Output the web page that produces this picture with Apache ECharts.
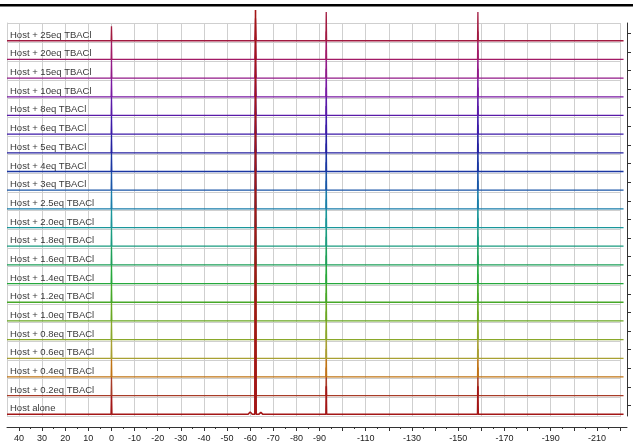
<!DOCTYPE html>
<html><head><meta charset="utf-8">
<script src="https://cdn.jsdelivr.net/npm/echarts@6/dist/echarts.min.js"></script>
<style>html,body{margin:0;padding:0;background:#fff}#c{width:633px;height:444px}</style>
</head><body><div id="c"></div><script>
// ---- data (bottom row first) ----
const spectrumLabels = [
  'Host alone','Host + 0.2eq TBACl','Host + 0.4eq TBACl','Host + 0.6eq TBACl','Host + 0.8eq TBACl',
  'Host + 1.0eq TBACl','Host + 1.2eq TBACl','Host + 1.4eq TBACl','Host + 1.6eq TBACl','Host + 1.8eq TBACl',
  'Host + 2.0eq TBACl','Host + 2.5eq TBACl','Host + 3eq TBACl','Host + 4eq TBACl','Host + 5eq TBACl',
  'Host + 6eq TBACl','Host + 8eq TBACl','Host + 10eq TBACl','Host + 15eq TBACl','Host + 20eq TBACl','Host + 25eq TBACl'
];
// chemical shifts (ppm) of the peaks
const peakShifts = [0, -62.3, -92.9, -158.5];
const peakWidths = [0.15, 0.3, 0.15, 0.15];
// peak heights (in units of stacking row) per spectrum, bottom row first
const heightsAt0    = [1,1,1,1,1,1,1,1,1,1,1,1,1,1,1,1,1,1,1,1,0.78];
const heightsAt62   = [21.64,1.2,1.2,1.2,1.2,1.2,1.2,1.2,1.2,1.2,1.2,1.2,1.2,1.2,1.2,1.2,1.2,1.2,1.2,1.2,1.2];
const heightsAt93   = [1.5,1.5,1.5,1.5,1.5,1.5,1.5,1.5,1.5,1.5,1.5,1.5,1.5,1.5,1.5,1.5,1.5,1.5,1.5,1.5,1.54];
const heightsAt159  = [1.5,1.5,1.5,1.5,1.5,1.5,1.5,1.5,1.5,1.5,1.5,1.5,1.5,1.5,1.5,1.5,1.5,1.5,1.5,1.5,1.54];
// small features of the host-alone spectrum around -62 ppm
const hostSatellites = [[-60.0, 0.12], [-64.6, 0.10]];
// spectral range (ppm)
const specStart = 45.2, specEnd = -221.5;
// axis ticks
const xTickMin = -220, xTickMax = 40, xTickStep = 10;

// ---- styles ----
const colors = ['#a31616','#a83c28','#c07414','#a8a032','#8aa82a','#6aa822','#46a828','#26a83c','#1ea05a','#1a9c80',
  '#1a969a','#1a7eaa','#1a56a8','#1a36a2','#2420a0','#3c1aa8','#5a1aa8','#7a1aa2','#921a88','#a21a66','#a21a40'];

const heightTables = [heightsAt0, heightsAt62, heightsAt93, heightsAt159];
const series = [];
spectrumLabels.forEach((name, i) => {
  const peaks = peakShifts.map((s, k) => [s, heightTables[k][i], peakWidths[k]]);
  if (i === 0) hostSatellites.forEach(p => peaks.push([p[0], p[1], 0.9]));
  peaks.sort((a, b) => b[0] - a[0]);
  const pts = [[specStart, i]];
  peaks.forEach(([s, h, w]) => { pts.push([s + w, i], [s, i + h], [s - w, i]); });
  pts.push([specEnd, i]);
  series.push({
    type: 'line', name, xAxisIndex: 0, yAxisIndex: 0, data: pts, showSymbol: false, symbol: 'none',
    clip: false, silent: true, z: i === 0 ? 4 : 3,
    lineStyle: { color: colors[i], width: i === 0 ? 1.6 : 1.3 }
  });
});
series.push({
  type: 'scatter', xAxisIndex: 0, yAxisIndex: 0, symbolSize: 0, silent: true, z: 10,
  data: spectrumLabels.map((n, i) => [43.9, i + 0.3, n]),
  label: { show: true, position: 'right', distance: 0, formatter: p => p.data[2],
    color: '#000', fontSize: 9.5, fontFamily: 'Liberation Sans, Arial, sans-serif' }
});

const chart = echarts.init(document.getElementById('c'), null, { renderer: 'canvas' });
const gray = '#cfcfcf';
chart.setOption({
  animation: false,
  backgroundColor: '#fff',
  graphic: [{ type: 'rect', shape: { x: 0, y: 4, width: 633, height: 2.5 }, style: { fill: '#000' } }],
  grid: [
    { left: 7, right: 6, top: 23, bottom: 28 },
    { left: 19, right: 13, top: 23, bottom: 28 },
    { left: 7, right: 12, top: 23, bottom: 28 },
    { left: 7, right: 6, top: 33.3, bottom: 38.5 }
  ],
  xAxis: [
    { type: 'value', gridIndex: 0, min: -223, max: 45.2, inverse: true, offset: 11,
      axisLine: { show: true, onZero: false, lineStyle: { color: '#333', width: 1 } },
      axisTick: { show: false }, axisLabel: { show: false }, splitLine: { show: false } },
    { type: 'value', gridIndex: 1, min: xTickMin, max: xTickMax, interval: xTickStep, inverse: true, offset: 11,
      axisLine: { show: false, onZero: false },
      axisTick: { show: true, length: 4, lineStyle: { color: '#333' } },
      minorTick: { show: true, splitNumber: 2, length: 2, lineStyle: { color: '#333' } },
      axisLabel: { show: true, interval: 0, margin: 7, color: '#222', fontSize: 9,
        fontFamily: 'Liberation Sans Narrow, Liberation Sans, Arial, sans-serif',
        showMinLabel: true, showMaxLabel: true,
        formatter: v => (v >= -90 || Math.abs(v) % 20 === 10) ? String(v) : '' },
      splitLine: { show: true, lineStyle: { color: gray, width: 1 } } },
    { type: 'value', gridIndex: 2, min: 0, max: 1, show: false },
    { type: 'value', gridIndex: 3, min: 0, max: 1, show: false }
  ],
  yAxis: [
    { type: 'value', gridIndex: 0, min: -0.09, max: 20.95, show: false },
    { type: 'value', gridIndex: 0, position: 'right', min: 0, max: 1,
      axisLine: { show: true, onZero: false, lineStyle: { color: '#333' } },
      axisTick: { show: false }, axisLabel: { show: false }, splitLine: { show: false } },
    { type: 'value', gridIndex: 1, min: 0, max: 1, show: false },
    { type: 'value', gridIndex: 2, min: 0, max: 21.04, interval: 1,
      axisLine: { show: true, onZero: false, lineStyle: { color: gray } },
      axisTick: { show: false }, axisLabel: { show: false },
      splitLine: { show: true, lineStyle: { color: gray, width: 1 } } },
    { type: 'value', gridIndex: 3, position: 'right', min: 0, max: 20, interval: 1,
      axisLine: { show: false, onZero: false },
      axisTick: { show: true, length: 4, lineStyle: { color: '#333' } },
      axisLabel: { show: false }, splitLine: { show: false } }
  ],
  series
});
</script></body></html>
